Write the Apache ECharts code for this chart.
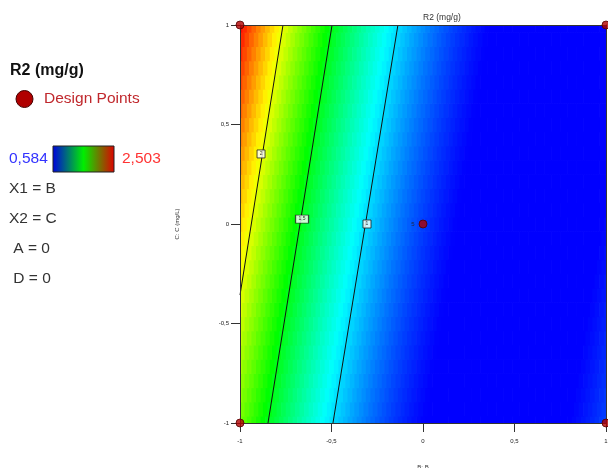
<!DOCTYPE html>
<html><head><meta charset="utf-8">
<script src="https://cdn.jsdelivr.net/npm/echarts@6/dist/echarts.min.js"></script>
<style>html,body{margin:0;padding:0;background:#fff}#c{width:608px;height:468px}</style>
</head><body><div id="c"></div>
<script>
// ---- data ----
const responseName = 'R2 (mg/g)';
const xAxisName = 'B: B';
const yAxisName = 'C: C (mg/L)';
const axisTicks = [-1, -0.5, 0, 0.5, 1];
const colorMin = 0.584;
const colorMax = 2.503;
// response values read along the slanted (contour-normal) direction, step 0.025 in B
const profile = [
  2.482, 2.425, 2.370, 2.315, 2.260, 2.207, 2.154, 2.103, 2.052, 2.002,
  1.952, 1.904, 1.856, 1.809, 1.763, 1.718, 1.673, 1.630, 1.587, 1.545,
  1.504, 1.463, 1.424, 1.385, 1.347, 1.310, 1.274, 1.238, 1.203, 1.170,
  1.137, 1.104, 1.073, 1.042, 1.012, 0.983, 0.955, 0.928, 0.901, 0.875,
  0.851, 0.826, 0.803, 0.781, 0.759, 0.738, 0.718, 0.699, 0.680, 0.663,
  0.646, 0.630, 0.615, 0.600, 0.587, 0.584,
  0.584, 0.584, 0.584, 0.584, 0.584, 0.584, 0.584, 0.584, 0.584, 0.584,
  0.584, 0.584, 0.584, 0.584, 0.584, 0.584, 0.584, 0.584, 0.584, 0.584,
  0.584, 0.584, 0.584, 0.584, 0.584, 0.584, 0.584, 0.584, 0.584, 0.584, 0.584,
  0.595, 0.609, 0.624, 0.639, 0.656, 0.673, 0.691, 0.710
];
const designB = [-1, -1, 1, 1, 0];
const designC = [-1, 1, 1, -1, 0];
const designCount = ['', '', '', '', '5'];
const contourLevels = ['2', '1,5', '1'];
const contourTopB = [-0.765, -0.497, -0.137];
const contourTopC = [1, 1, 1];
const contourEndB = [-1, -0.847, -0.492];
const contourEndC = [-0.357, -1, -1];
const contourLabelB = [-0.885, -0.661, -0.306];
const contourLabelC = [0.352, 0.025, 0.0];
const legendLines = ['X1 = B', 'X2 = C', ' A = 0', ' D = 0'];

// ---- build table for the library (brick layout: odd rows offset by half a cell) ----
const nCols = 81, nRows = 29, shift = 14;
const cells = [];
for (let r = 0; r < nRows; r++) {
  const off = (r % 2) * 0.0125;
  for (let j = 0; j < nCols; j++) {
    const k = shift + j - Math.floor(r / 2);
    if (k < 0 || k >= profile.length) continue;
    cells.push([-1 + j * 0.025 + off, -1 + r * 2 / (nRows - 1), profile[k]]);
  }
}
const halfW = 0.0125, halfH = 1 / (nRows - 1);
const fmt = v => String(v).replace('.', ',');

const chart = echarts.init(document.getElementById('c'), null, {renderer: 'canvas'});
const axisCommon = {
  type: 'value', min: -1, max: 1, interval: 0.5,
  splitLine: {show: false},
  axisLine: {show: true, onZero: false, lineStyle: {color: '#333', width: 1}},
  axisTick: {show: true, length: 9, lineStyle: {color: '#333'}},
  z: 10
};
const contourSeries = contourLevels.map((lv, i) => ({
  type: 'line', xAxisIndex: 0, yAxisIndex: 0,
  data: [[contourTopB[i], contourTopC[i]], [contourEndB[i], contourEndC[i]]],
  symbol: 'none', lineStyle: {color: '#111', width: 1}, clip: false, z: 5, silent: true
}));

chart.setOption({
  animation: false,
  grid: {left: 240, top: 25, width: 366, height: 398, show: false, containLabel: false, outerBoundsMode: 'none'},
  xAxis: [
    Object.assign({}, axisCommon, {
      position: 'bottom',
      axisLabel: {fontSize: 6, color: '#222', margin: 15, formatter: fmt},
      name: xAxisName, nameLocation: 'middle', nameGap: 41,
      nameTextStyle: {fontSize: 6, color: '#333'}
    }),
    Object.assign({}, axisCommon, {position: 'top', axisTick: {show: false}, axisLabel: {show: false}})
  ],
  yAxis: [
    Object.assign({}, axisCommon, {
      position: 'left',
      axisLabel: {fontSize: 6, color: '#222', margin: 11, formatter: fmt},
      name: yAxisName, nameLocation: 'middle', nameGap: 60,
      nameTextStyle: {fontSize: 6, color: '#333'}
    }),
    Object.assign({}, axisCommon, {position: 'right', axisTick: {show: false}, axisLabel: {show: false}})
  ],
  visualMap: {
    show: false, type: 'continuous', seriesIndex: 0, dimension: 2,
    min: colorMin, max: colorMax,
    inRange: {color: ['#0000ff', '#00ffff', '#00ff00', '#ffff00', '#ff0000']}
  },
  series: [
    {
      type: 'custom', xAxisIndex: 0, yAxisIndex: 0, data: cells, silent: true,
      encode: {x: 0, y: 1}, progressive: 0, z: 1,
      renderItem: function (params, api) {
        const b = api.value(0), c = api.value(1);
        const p1 = api.coord([b - halfW, c + halfH]);
        const p2 = api.coord([b + halfW, c - halfH]);
        const cs = params.coordSys;
        const rect = echarts.graphic.clipRectByRect(
          {x: p1[0], y: p1[1], width: p2[0] - p1[0] + 0.7, height: p2[1] - p1[1] + 0.7},
          {x: cs.x, y: cs.y, width: cs.width, height: cs.height});
        return rect && {type: 'rect', shape: rect, style: {fill: api.visual('color')}};
      }
    },
    ...contourSeries,
    {
      type: 'scatter', xAxisIndex: 0, yAxisIndex: 0, clip: false, z: 6, silent: true,
      data: contourLevels.map((lv, i) => ({value: [contourLabelB[i], contourLabelC[i]], name: lv})),
      symbol: 'rect',
      symbolSize: (v, p) => [p.name.length * 2.5 + 5.5, 8],
      itemStyle: {color: '#fff', borderColor: '#222', borderWidth: 1},
      label: {show: true, position: 'inside', fontSize: 5, color: '#000', formatter: p => p.name}
    },
    {
      type: 'scatter', xAxisIndex: 0, yAxisIndex: 0, clip: false, z: 20, silent: true,
      data: designB.map((b, i) => ({value: [b, designC[i]], name: designCount[i]})),
      symbol: 'circle', symbolSize: 8,
      itemStyle: {color: '#b00000', borderColor: '#500', borderWidth: 1},
      labelLayout: {hideOverlap: false},
      label: {show: true, position: 'left', distance: 4, fontSize: 6, color: '#222', formatter: p => p.name}
    }
  ],
  graphic: [
    {type: 'text', left: 423, top: 13, style: {text: responseName, fontSize: 8.5, fill: '#333', fontFamily: 'Liberation Sans', textAlign: 'center'}},
    {type: 'text', x: 10, y: 71, style: {text: responseName, fontSize: 16, fontWeight: 'bold', fill: '#111', fontFamily: 'Liberation Sans', textVerticalAlign: 'middle'}},
    {type: 'circle', shape: {cx: 24.5, cy: 99, r: 8.5}, style: {fill: '#b00000', stroke: '#400', lineWidth: 1}},
    {type: 'text', x: 44, y: 99, style: {text: 'Design Points', fontSize: 15.5, fill: '#c0282d', fontFamily: 'Liberation Sans', textVerticalAlign: 'middle'}},
    {type: 'text', x: 9, y: 159, style: {text: fmt(colorMin), fontSize: 15.5, fill: '#3333ff', fontFamily: 'Liberation Sans', textVerticalAlign: 'middle'}},
    {type: 'rect', shape: {x: 53, y: 146, width: 61, height: 26}, style: {
      fill: new echarts.graphic.LinearGradient(0, 0, 1, 0, [
        {offset: 0, color: '#0000e0'}, {offset: 0.5, color: '#00ee00'}, {offset: 1, color: '#e00000'}]),
      stroke: '#222', lineWidth: 1}},
    {type: 'text', x: 122, y: 159, style: {text: fmt(colorMax), fontSize: 15.5, fill: '#ff3333', fontFamily: 'Liberation Sans', textVerticalAlign: 'middle'}},
    ...legendLines.map((t, i) => ({type: 'text', x: 9, y: 189 + i * 30, style: {text: t, fontSize: 15.5, fill: '#333', fontFamily: 'Liberation Sans', textVerticalAlign: 'middle'}}))
  ]
});
</script></body></html>
